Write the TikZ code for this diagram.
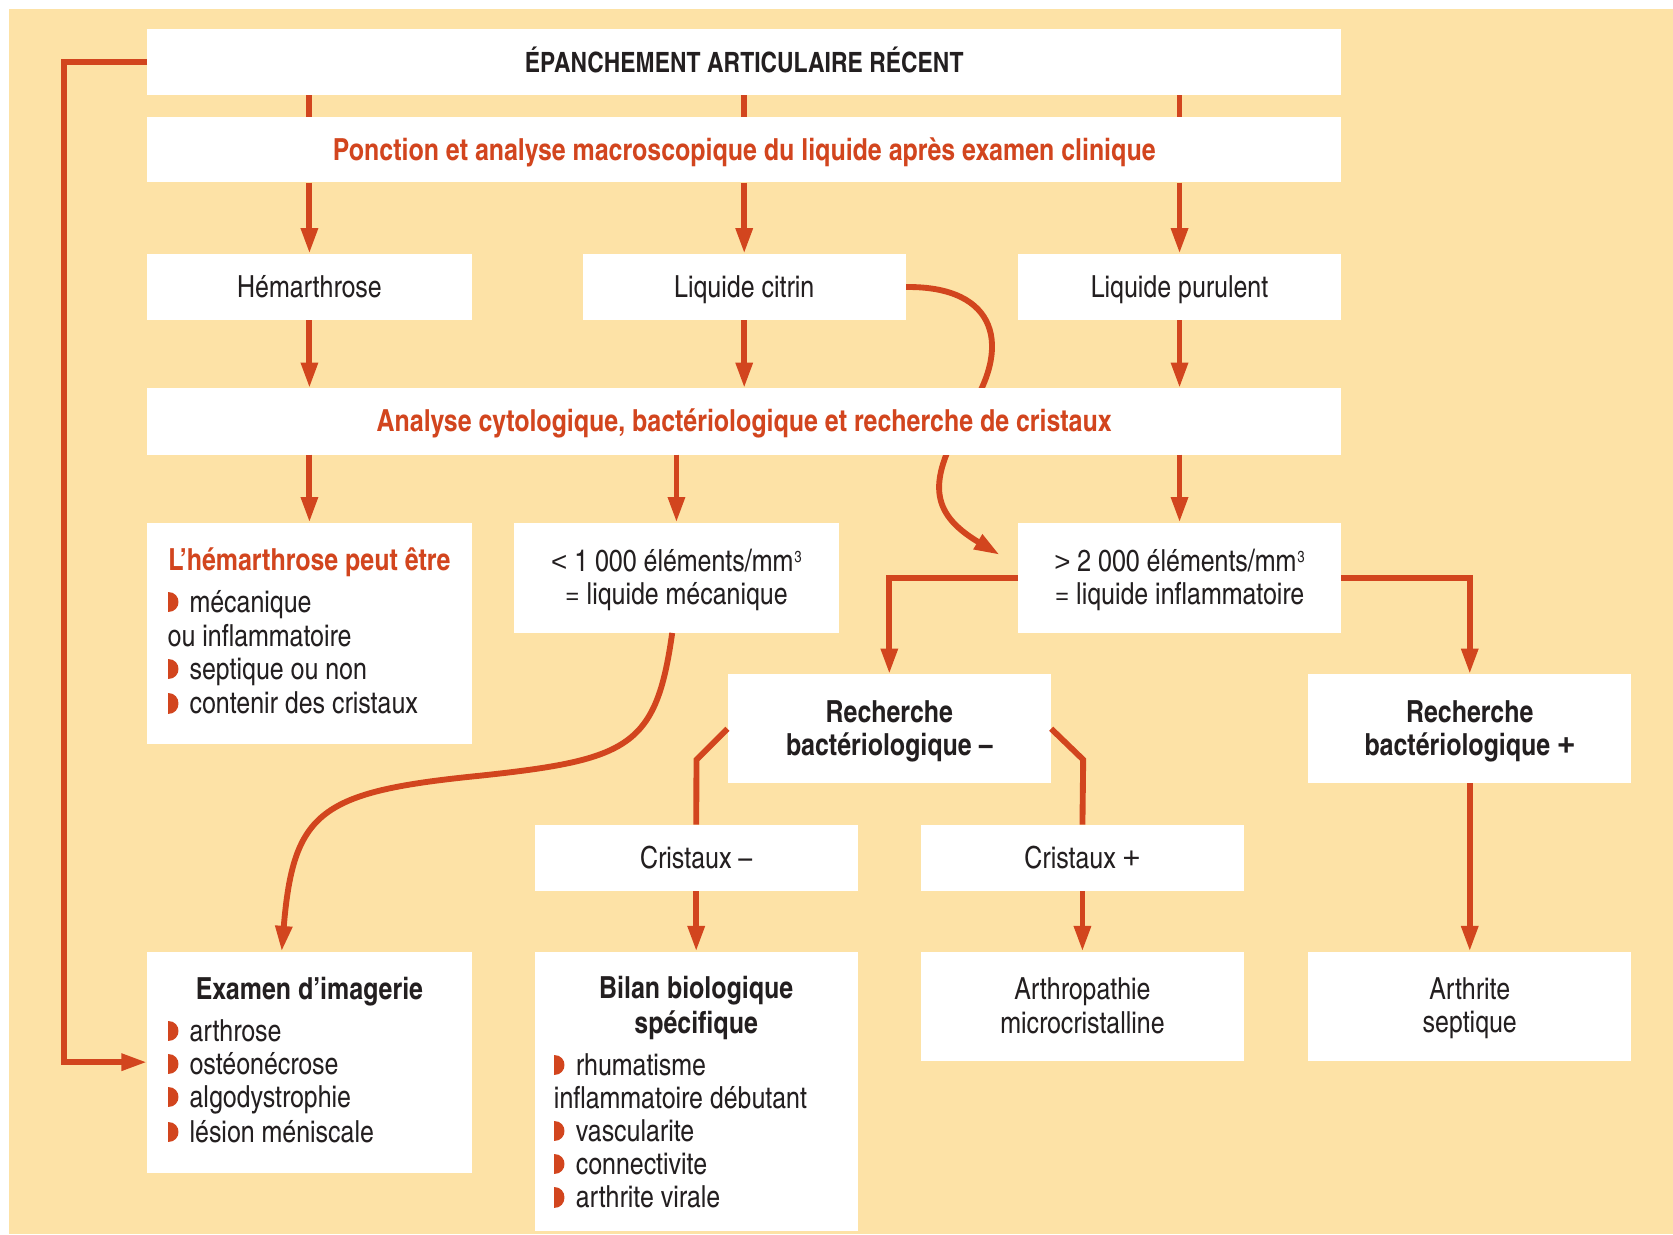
\documentclass[tikz,border=0pt]{standalone}
\usepackage{graphicx}
\usepackage{fontspec}
\setmainfont{texgyreheroscn}[Extension=.otf, UprightFont=*-regular, BoldFont=*-bold, ItalicFont=*-italic, BoldItalicFont=*-bolditalic]
\newfontfamily\lib{Liberation Sans}
\usetikzlibrary{arrows.meta}
\definecolor{peach}{HTML}{FDE2A6}
\definecolor{ared}{HTML}{D2451E}
\definecolor{ink}{HTML}{231F20}
\newcommand\fs{\fontsize{28.5}{31}\selectfont}
\newcommand\fst{\fontsize{26.2}{31}\selectfont}
\newcommand\st{\rule[-5.8pt]{0pt}{31pt}}
\newcommand\cube{\hspace{1pt}\raisebox{8pt}{\fontsize{15}{15}\selectfont 3}}
\newcommand\pl{{\lib +}}
\newcommand\lt{{\lib\fontsize{26}{31}\selectfont <}}
\newcommand\gt{{\lib\fontsize{26}{31}\selectfont >}}
\newcommand\bul{\tikz[x=1pt,y=1pt,baseline=0pt]\fill[ared] (0,0) -- (0,19) .. controls (13,19) and (13,0) .. (0,0) -- cycle;\hspace{7.5pt}}
\begin{document}
\begin{tikzpicture}[x=1pt,y=-1pt,
  box/.style={fill=white, inner sep=0pt, text=ink, font=\fs, align=center},
  bbox/.style={box, font=\fs\bfseries},
  rbox/.style={box, font=\fs\bfseries, text=ared},
  ttl/.style={inner sep=0pt, font=\fs\bfseries, text=ink, align=center},
  lst/.style={inner sep=0pt, font=\fs, text=ink, align=left, anchor=west},
  conn/.style={draw=ared, line width=5.5pt},
  arr/.style={conn, -{Triangle[length=24pt,width=15pt]}},
]
\useasboundingbox (0,0) rectangle (1568,1157);
\fill[peach] (8,8) rectangle (1568,1157);

% boxes (upper part)
\node[bbox, font=\fst\bfseries, minimum width=1119pt, minimum height=62pt] (top) at (697.5,58) {\st ÉPANCHEMENT ARTICULAIRE RÉCENT};
\node[rbox, minimum width=1119pt, minimum height=61pt] (ponc) at (697.5,140.5) {\st Ponction et analyse macroscopique du liquide après examen clinique};
\node[box, minimum width=304pt, minimum height=62pt] (hem) at (290,269) {\st Hémarthrose};
\node[box, minimum width=303pt, minimum height=62pt] (cit) at (697.5,269) {\st Liquide citrin};
\node[box, minimum width=303pt, minimum height=62pt] (pur) at (1105.5,269) {\st Liquide purulent};

% curve from "Liquide citrin", passing behind the analysis box
\coordinate (citend) at (937,520);
\draw[arr] (cit.east) .. controls (935,268) and (950,325) .. (905,390) .. controls (870,450) and (870,480) .. (citend);

\node[rbox, minimum width=1119pt, minimum height=62pt] (ana) at (697.5,395) {\st Analyse cytologique, bactériologique et recherche de cristaux};
\node[box, minimum width=304pt, minimum height=207pt] (hemb) at (290,593.5) {};
\node[box, minimum width=304pt, minimum height=103pt] (low) at (634,541.5) {\st\lt\ 1 000 éléments/mm\cube\\\st = liquide mécanique};
\node[box, minimum width=303pt, minimum height=103pt] (high) at (1105.5,541.5) {\st\gt\ 2 000 éléments/mm\cube\\\st = liquide inflammatoire};
\node[bbox, minimum width=303pt, minimum height=102pt] (rbm) at (833.5,683) {\st Recherche\\\st bactériologique –};
\node[bbox, minimum width=303pt, minimum height=102pt] (rbp) at (1377.5,683) {\st Recherche\\\st bactériologique \pl};
\node[box, minimum width=303pt, minimum height=62pt] (crm) at (652.5,804) {\st Cristaux –};
\node[box, minimum width=303pt, minimum height=62pt] (crp) at (1014.5,804) {\st Cristaux \pl};
\node[box, minimum width=304pt, minimum height=207pt] (exam) at (290,995.5) {};
\node[box, minimum width=303pt, minimum height=262pt] (bilan) at (652.5,1023) {};
\node[box, minimum width=303pt, minimum height=102pt] (arth) at (1014.5,943) {\st Arthropathie\\\st microcristalline};
\node[box, minimum width=303pt, minimum height=102pt] (sept) at (1377.5,943) {\st Arthrite\\\st septique};

% texts inside list boxes
\node[ttl, text=ared] (hembt) at (290,525) {\st L’hémarthrose peut être};
\node[lst] (hembl) at (157,611.5) {\st\bul mécanique\\\st ou inflammatoire\\\st\bul septique ou non\\\st\bul contenir des cristaux};
\node[ttl] (examt) at (290,927) {\st Examen d’imagerie};
\node[lst] (examl) at (157,1013.5) {\st\bul arthrose\\\st\bul ostéonécrose\\\st\bul algodystrophie\\\st\bul lésion méniscale};
\node[ttl] (bilant) at (652.5,942.5) {\st Bilan biologique\\\st spécifique};
\node[lst] (bilanl) at (519,1060) {\st\bul rhumatisme\\\st inflammatoire débutant\\\st\bul vascularite\\\st\bul connectivite\\\st\bul arthrite virale};

% connectors
\foreach \n in {hem,cit,pur}{
  \draw[conn] (top.south -| \n.north) -- (ponc.north -| \n.north);
  \draw[arr] (ponc.south -| \n.north) -- (\n.north);
  \draw[arr] (\n.south) -- (ana.north -| \n.south);
}
\draw[arr] (ana.south -| hemb.north) -- (hemb.north);
\draw[arr] (ana.south -| low.north) -- (low.north);
\draw[arr] (ana.south -| high.north) -- (high.north);
\draw[arr] (high.west) -| (rbm.north);
\draw[arr] (high.east) -| (rbp.north);
\draw[conn] (rbm.west) -- ++(-29,29) -- (crm.north);
\draw[conn] (rbm.east) -- ++(30,29) -- (crp.north);
\draw[arr] (crm.south) -- (bilan.north);
\draw[arr] (crp.south) -- (arth.north);
\draw[arr] (rbp.south) -- (sept.north);
\coordinate (lft) at (60,0);
\draw[arr] (top.west) -- (top.west -| lft) |- (exam.west);
\draw[arr] ([xshift=-4pt]low.south) .. controls (615,700) and (590,712) .. (450,727) .. controls (300,742) and (275,760) .. ([xshift=-26pt]exam.north);
\end{tikzpicture}
\end{document}
